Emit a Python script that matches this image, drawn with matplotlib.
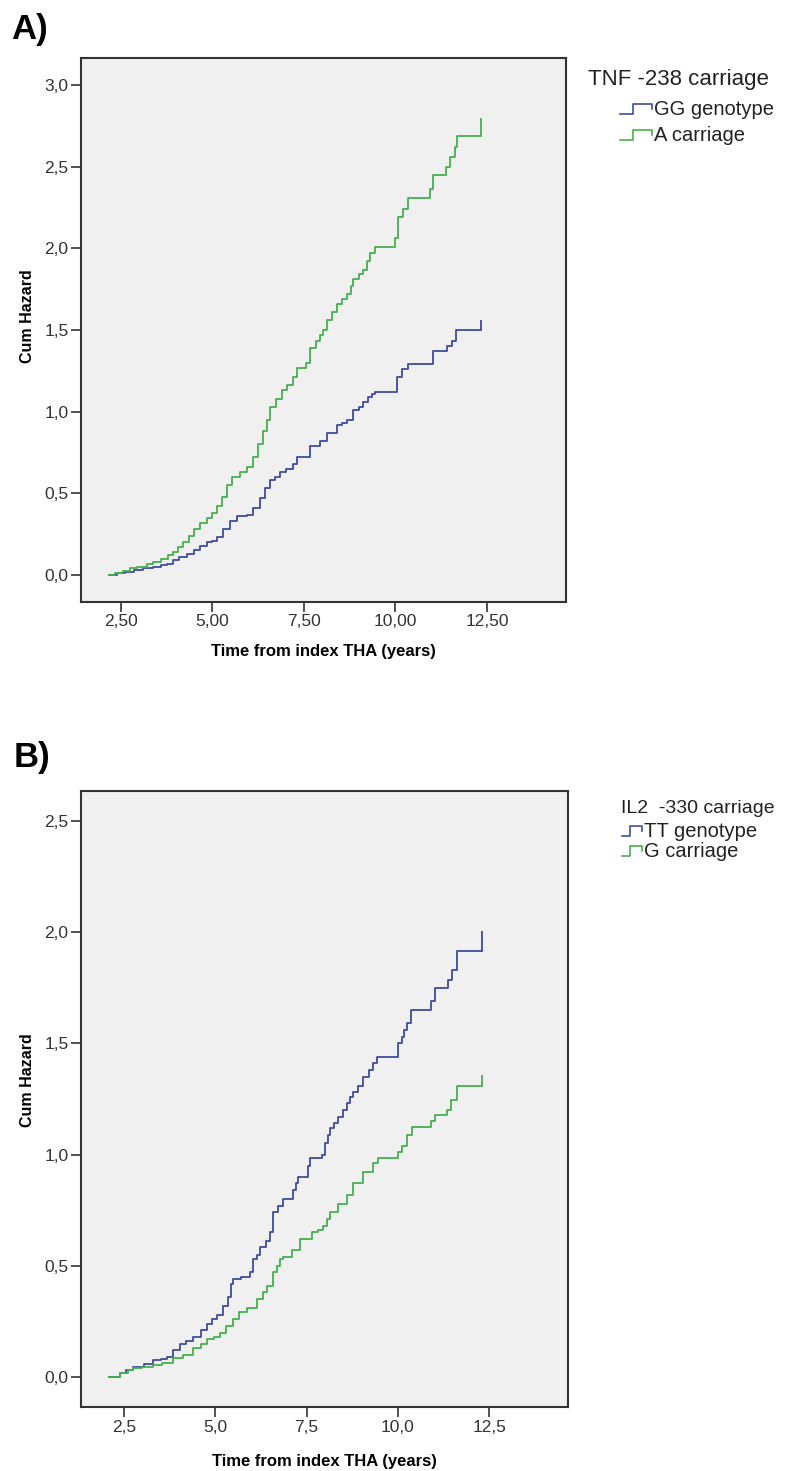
import matplotlib
matplotlib.use("Agg")
import matplotlib.pyplot as plt
from matplotlib.legend_handler import HandlerBase
from matplotlib.lines import Line2D

plt.rcParams['font.family'] = ['Liberation Sans', 'DejaVu Sans']

BLUE = '#3f4b9e'
GREEN = '#45b04f'

# panel A: TNF -238
a_gg_t = [2.17, 2.40, 2.60, 2.85, 3.10, 3.38, 3.60, 3.75, 3.92, 4.10, 4.30, 4.50,
          4.66, 4.85, 5.00, 5.12, 5.30, 5.48, 5.67, 5.94, 6.10, 6.30, 6.45, 6.58,
          6.72, 6.85, 7.00, 7.20, 7.31, 7.67, 7.94, 8.13, 8.41, 8.55, 8.68, 8.85,
          9.00, 9.12, 9.25, 9.36, 9.45, 10.05, 10.18, 10.35, 11.03, 11.41, 11.55,
          11.66, 12.35]
a_gg_h = [0.00, 0.01, 0.02, 0.03, 0.04, 0.05, 0.06, 0.07, 0.09, 0.11, 0.13, 0.15,
          0.18, 0.20, 0.21, 0.23, 0.28, 0.33, 0.36, 0.37, 0.41, 0.47, 0.53, 0.58,
          0.60, 0.63, 0.65, 0.68, 0.72, 0.79, 0.82, 0.87, 0.92, 0.93, 0.95, 1.01,
          1.03, 1.06, 1.09, 1.11, 1.12, 1.21, 1.26, 1.29, 1.37, 1.40, 1.43,
          1.50, 1.50]
a_gg_cens = 1.56

a_a_t = [2.17, 2.35, 2.55, 2.75, 2.95, 3.20, 3.38, 3.60, 3.80, 3.92, 4.05, 4.19,
         4.35, 4.50, 4.66, 4.85, 5.00, 5.12, 5.25, 5.40, 5.53, 5.75, 5.94, 6.10,
         6.25, 6.38, 6.48, 6.58, 6.75, 6.90, 7.05, 7.20, 7.31, 7.55, 7.67, 7.82,
         7.95, 8.02, 8.13, 8.28, 8.41, 8.55, 8.68, 8.78, 8.85, 9.00, 9.12, 9.22,
         9.31, 9.45, 9.99, 10.08, 10.21, 10.35, 10.95, 11.03, 11.39, 11.50, 11.64,
         11.69, 12.35]
a_a_h = [0.00, 0.01, 0.025, 0.04, 0.05, 0.07, 0.08, 0.10, 0.12, 0.14, 0.17, 0.20,
         0.24, 0.28, 0.32, 0.35, 0.38, 0.42, 0.48, 0.55, 0.60, 0.63, 0.66, 0.72,
         0.80, 0.88, 0.95, 1.03, 1.08, 1.13, 1.16, 1.21, 1.27, 1.30, 1.39, 1.43,
         1.47, 1.50, 1.56, 1.61, 1.66, 1.69, 1.72, 1.77, 1.81, 1.84, 1.87, 1.92,
         1.97, 2.01, 2.06, 2.19, 2.24, 2.31, 2.36, 2.45, 2.50, 2.56, 2.62,
         2.69, 2.69]
a_a_cens = 2.80

# panel B: IL2 -330
b_tt_t = [2.09, 2.39, 2.55, 2.75, 3.05, 3.29, 3.50, 3.68, 3.85, 4.03, 4.20, 4.39,
          4.60, 4.77, 4.90, 5.05, 5.20, 5.35, 5.42, 5.49, 5.70, 5.95, 6.03, 6.14,
          6.23, 6.40, 6.50, 6.58, 6.72, 6.86, 7.13, 7.20, 7.27, 7.54, 7.60, 7.92,
          8.01, 8.08, 8.14, 8.25, 8.36, 8.50, 8.61, 8.70, 8.77, 8.90, 9.05, 9.20,
          9.32, 9.43, 10.00, 10.10, 10.18, 10.25, 10.36, 10.91, 11.02, 11.38,
          11.49, 11.62, 12.31]
b_tt_h = [0.00, 0.02, 0.03, 0.045, 0.06, 0.077, 0.08, 0.09, 0.12, 0.15, 0.16, 0.18,
          0.21, 0.24, 0.26, 0.28, 0.32, 0.36, 0.42, 0.44, 0.45, 0.47, 0.53, 0.55,
          0.585, 0.61, 0.65, 0.74, 0.77, 0.80, 0.84, 0.87, 0.90, 0.95, 0.985, 1.00,
          1.05, 1.09, 1.12, 1.14, 1.17, 1.20, 1.23, 1.26, 1.28, 1.31, 1.35, 1.38,
          1.41, 1.44, 1.50, 1.53, 1.56, 1.59, 1.65, 1.69, 1.75, 1.785,
          1.83, 1.915, 1.915]
b_tt_cens = 2.005

b_g_t = [2.09, 2.39, 2.60, 2.75, 3.00, 3.29, 3.55, 3.84, 4.10, 4.39, 4.60, 4.77,
         4.95, 5.13, 5.30, 5.49, 5.65, 5.87, 6.14, 6.30, 6.42, 6.58, 6.68, 6.77,
         6.86, 7.10, 7.32, 7.65, 7.80, 7.95, 8.05, 8.14, 8.36, 8.61, 8.77, 9.05,
         9.32, 9.46, 10.00, 10.10, 10.25, 10.38, 10.91, 11.02, 11.35, 11.46,
         11.62, 12.31]
b_g_h = [0.00, 0.018, 0.03, 0.04, 0.045, 0.054, 0.065, 0.085, 0.10, 0.13, 0.15, 0.17,
         0.18, 0.20, 0.23, 0.26, 0.29, 0.31, 0.35, 0.38, 0.41, 0.47, 0.50, 0.53,
         0.54, 0.57, 0.62, 0.65, 0.66, 0.68, 0.71, 0.74, 0.78, 0.82, 0.87, 0.92,
         0.96, 0.985, 1.01, 1.04, 1.09, 1.125, 1.15, 1.18, 1.20, 1.245,
         1.31, 1.31]
b_g_cens = 1.36


class StepHandler(HandlerBase):
    # little step icon like the SPSS legend
    def create_artists(self, legend, orig_handle, xdescent, ydescent,
                       width, height, fontsize, trans):
        xs = [0, 0.4 * width, 0.4 * width, width, width]
        ys = [0.1 * height, 0.1 * height, 0.8 * height, 0.8 * height, 0.45 * height]
        ln = Line2D(xs, ys, color=orig_handle.get_color(), lw=1.2, transform=trans)
        return [ln]


def draw_panel(ax, series, yticks, ylabels, xticks, xlabels, xlim, ylim):
    ax.set_facecolor('#f0f0f0')
    for t, h, c, col in series:
        ax.step(t, h, where='post', color=col, lw=1.3)
        ax.vlines(t[-1], h[-1], c, color=col, lw=1.3)
    ax.set_xlim(*xlim)
    ax.set_ylim(*ylim)
    ax.set_xticks(xticks)
    ax.set_xticklabels(xlabels)
    ax.set_yticks(yticks)
    ax.set_yticklabels(ylabels)
    ax.tick_params(direction='out', length=7, width=1.2, colors='#333333',
                   labelsize=12.5, pad=2)
    for s in ax.spines.values():
        s.set_color('#333333')
        s.set_linewidth(1.5)
    ax.set_ylabel('Cum Hazard', fontsize=11.5, fontweight='bold')
    ax.set_xlabel('Time from index THA (years)', fontsize=12, fontweight='bold')


def add_legend(labels, title, title_xy, title_size, top_xy, hlen, spacing):
    fig.text(title_xy[0] / 785, 1 - title_xy[1] / 1471, title, fontsize=title_size,
             color='#222222', va='center')
    hs = [Line2D([], [], color=BLUE), Line2D([], [], color=GREEN)]
    leg = fig.legend(hs, labels, loc='upper left',
                     bbox_to_anchor=(top_xy[0] / 785, 1 - top_xy[1] / 1471),
                     frameon=False, fontsize=14.5,
                     handler_map={Line2D: StepHandler()}, handlelength=hlen,
                     handletextpad=0.1, labelspacing=spacing, borderpad=0,
                     borderaxespad=0)
    for t in leg.get_texts():
        t.set_color('#222222')


fig = plt.figure(figsize=(7.85, 14.71), dpi=100)

axA = fig.add_axes([0.1032, 0.5908, 0.6178, 0.3698])
draw_panel(axA,
           [(a_gg_t, a_gg_h, a_gg_cens, BLUE), (a_a_t, a_a_h, a_a_cens, GREEN)],
           [0.0, 0.5, 1.0, 1.5, 2.0, 2.5, 3.0],
           ['0,0', '0,5', '1,0', '1,5', '2,0', '2,5', '3,0'],
           [2.5, 5.0, 7.5, 10.0, 12.5],
           ['2,50', '5,00', '7,50', '10,00', '12,50'],
           (1.41, 14.66), (-0.165, 3.165))
axA.yaxis.set_label_coords(-0.094, 0.526)
axA.xaxis.set_label_coords(0.5, -0.077)

axB = fig.add_axes([0.1032, 0.0435, 0.6204, 0.4188])
draw_panel(axB,
           [(b_tt_t, b_tt_h, b_tt_cens, BLUE), (b_g_t, b_g_h, b_g_cens, GREEN)],
           [0.0, 0.5, 1.0, 1.5, 2.0, 2.5],
           ['0,0', '0,5', '1,0', '1,5', '2,0', '2,5'],
           [2.5, 5.0, 7.5, 10.0, 12.5],
           ['2,5', '5,0', '7,5', '10,0', '12,5'],
           (1.32, 14.66), (-0.135, 2.635))
axB.yaxis.set_label_coords(-0.094, 0.53)
axB.xaxis.set_label_coords(0.5, -0.076)

add_legend(['GG genotype', 'A carriage'], 'TNF -238 carriage',
           (588, 79), 16, (620, 100), 1.6, 0.35)
add_legend(['TT genotype', 'G carriage'], 'IL2  -330 carriage',
           (621, 809), 14, (622, 822), 1.0, 0.05)

fig.text(11 / 785, 1 - 29 / 1471, 'A)', fontsize=25, fontweight='bold', va='center')
fig.text(14 / 785, 1 - 757 / 1471, 'B)', fontsize=25, fontweight='bold', va='center')

fig.savefig('out.png', dpi=100)
